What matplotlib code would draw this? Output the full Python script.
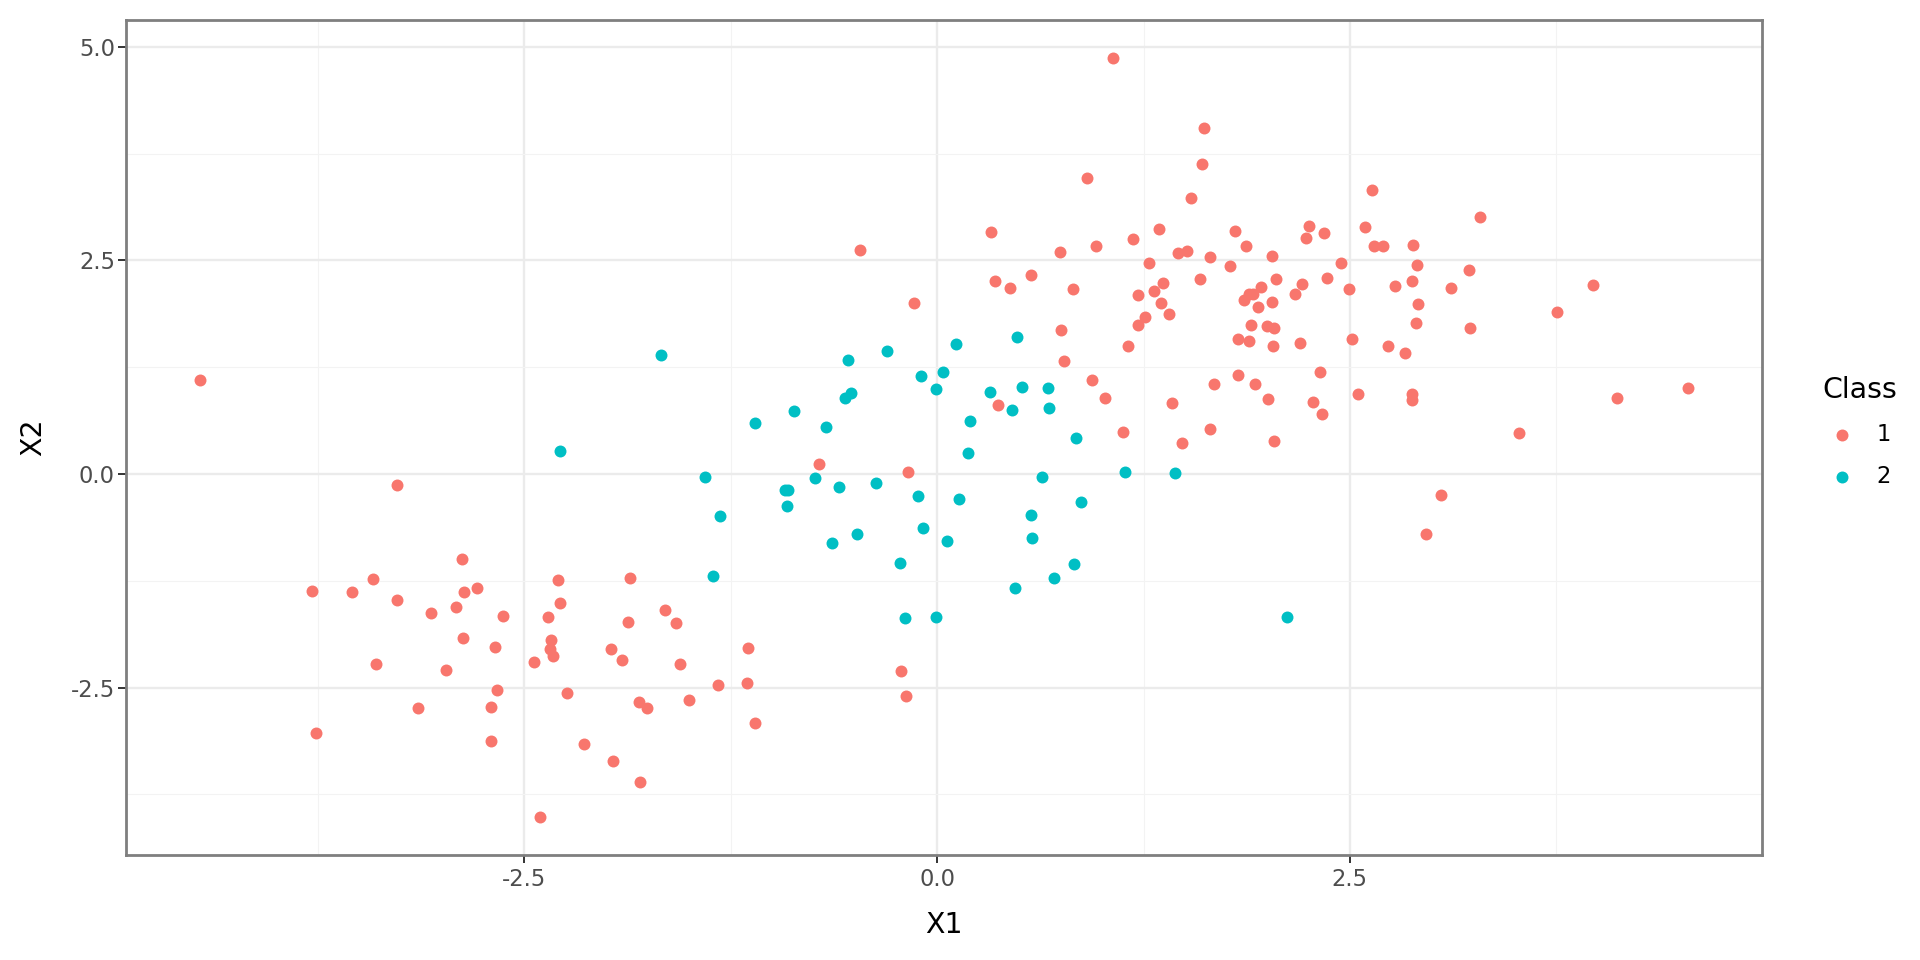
import matplotlib
matplotlib.use("Agg")
import matplotlib.pyplot as plt
import numpy as np

# ---- data: class 1 (red) ----
class1_x1 = [
    -4.463, -3.272, -2.880, -3.417, -3.785, -3.544, -2.868, -2.787, -3.270, -3.068,
    -2.914, -2.629, -2.359, -2.874, -2.676, -2.339, -2.345, -2.326, -3.397, -2.973,
    -2.666, -2.296, -1.860, -2.284, -1.646, -1.870, -1.584, -2.442, -1.975, -1.908,
    -1.559, -1.143, -3.147, -2.702, -2.705, -2.244, -1.806, -1.759, -1.502, -1.327,
    -1.149, -1.105, -2.137, -1.965, -1.801, -2.403, -3.765, -0.218, -0.190, -0.715,
    -0.176, -0.469, -0.139,
    1.064, 1.618, 1.607, 0.905, 1.539, 2.635, 0.325, 1.345, 1.187, 0.963,
    0.747, 1.460, 1.516, 1.283, 0.571, 0.349, 0.442, 0.822, 1.367, 1.218,
    1.311, 1.357, 1.405, 1.262, 1.218, 0.749, 1.157, 0.769, 0.941, 1.014,
    1.424, 0.367, 1.805, 2.251, 2.593, 2.342, 2.233, 1.872, 2.645, 2.700,
    2.884, 1.650, 2.027, 1.771, 2.445, 2.904, 3.110, 1.593, 2.054, 2.363,
    1.963, 1.912, 1.892, 1.858, 2.213, 2.167, 2.492, 2.775, 2.875, 2.031,
    1.945, 2.914, 1.902, 2.001, 2.039, 2.902, 1.824, 1.888, 2.033, 2.197,
    2.510, 2.730, 2.831, 1.824, 1.927, 2.320, 1.676, 2.003, 2.279, 2.330,
    2.547, 2.878, 2.878, 1.123, 1.654, 1.486, 2.039, 3.053, 2.960, 3.291,
    3.219, 3.970, 3.752, 3.225, 4.546, 4.117, 3.522,
]
class1_x2 = [
    1.100, -0.130, -0.995, -1.228, -1.369, -1.376, -1.376, -1.330, -1.478, -1.622,
    -1.560, -1.665, -1.673, -1.918, -2.020, -1.938, -2.050, -2.132, -2.222, -2.292,
    -2.526, -1.244, -1.213, -1.509, -1.591, -1.731, -1.739, -2.199, -2.050, -2.175,
    -2.225, -2.034, -2.740, -2.724, -3.122, -2.561, -2.670, -2.740, -2.643, -2.464,
    -2.444, -2.908, -3.165, -3.356, -3.601, -4.014, -3.028, -2.304, -2.600, 0.116,
    0.026, 2.617, 2.001,
    4.873, 4.050, 3.630, 3.459, 3.228, 3.318, 2.831, 2.862, 2.754, 2.667,
    2.593, 2.582, 2.605, 2.473, 2.333, 2.258, 2.173, 2.165, 2.235, 2.091,
    2.146, 2.001, 1.877, 1.842, 1.748, 1.690, 1.498, 1.319, 1.105, 0.895,
    0.832, 0.813, 2.849, 2.897, 2.889, 2.824, 2.765, 2.667, 2.664, 2.664,
    2.679, 2.535, 2.547, 2.430, 2.473, 2.450, 2.173, 2.280, 2.278, 2.298,
    2.183, 2.111, 2.103, 2.036, 2.219, 2.111, 2.165, 2.200, 2.259, 2.017,
    1.951, 1.986, 1.748, 1.729, 1.713, 1.767, 1.580, 1.561, 1.498, 1.538,
    1.580, 1.503, 1.417, 1.159, 1.059, 1.188, 1.051, 0.879, 0.844, 0.700,
    0.937, 0.942, 0.864, 0.490, 0.525, 0.357, 0.385, -0.247, -0.706, 3.011,
    2.387, 2.212, 1.892, 1.705, 1.004, 0.891, 0.478,
]

# ---- data: class 2 (teal) ----
class2_x1 = [
    -1.670, -0.303, -0.539, -0.099, 0.036, -0.004, -0.557, -0.521, -0.869, -1.103,
    -0.672, -2.284, -1.406, -0.739, -0.923, -0.903, -0.596, -0.370, -0.115, -0.911,
    -1.317, -0.083, -0.485, -0.636, 0.062, -0.227, -1.359, -0.196, -0.008, 0.482,
    0.113, 0.515, 0.670, 0.321, 0.456, 0.680, 0.202, 0.185, 0.842, 1.135,
    1.438, 0.870, 0.135, 0.634, 0.567, 0.577, 0.826, 0.707, 0.473, 2.122,
]
class2_x2 = [
    1.393, 1.440, 1.339, 1.144, 1.195, 0.992, 0.887, 0.946, 0.743, 0.595,
    0.545, 0.264, -0.032, -0.044, -0.184, -0.184, -0.153, -0.110, -0.254, -0.379,
    -0.492, -0.636, -0.699, -0.804, -0.788, -1.037, -1.197, -1.688, -1.676, 1.604,
    1.522, 1.019, 1.008, 0.957, 0.750, 0.774, 0.615, 0.243, 0.420, 0.019,
    0.007, -0.332, -0.290, -0.030, -0.484, -0.749, -1.057, -1.217, -1.330, -1.676,
]

classes = ["1", "2"]
class_colors = ["#F8766D", "#00BFC4"]

x_ticks = [-2.5, 0.0, 2.5]
x_tick_labels = ["-2.5", "0.0", "2.5"]
y_ticks = [-2.5, 0.0, 2.5, 5.0]
y_tick_labels = ["-2.5", "0.0", "2.5", "5.0"]

plt.rcParams["font.family"] = ["DejaVu Sans"]

TICK_FS = 16.3
TITLE_FS = 20.4

fig = plt.figure(figsize=(19.2, 9.6), dpi=100)
ax = fig.add_axes([126 / 1920, 1 - 855 / 960, (1762 - 126) / 1920, (855 - 19.6) / 960])

handles = []
for xs, ys, col in [(class1_x1, class1_x2, class_colors[0]), (class2_x1, class2_x2, class_colors[1])]:
    h = ax.scatter(xs, ys, s=74, color=col, linewidths=0, zorder=3)
    handles.append(h)

allx = np.array(class1_x1 + class2_x1)
ally = np.array(class1_x2 + class2_x2)
ex = 0.05 * (allx.max() - allx.min())
ey = 0.05 * (ally.max() - ally.min())
ax.set_xlim(allx.min() - ex, allx.max() + ex)
ax.set_ylim(ally.min() - ey, ally.max() + ey)

ax.set_xticks(x_ticks)
ax.set_xticklabels(x_tick_labels)
ax.set_yticks(y_ticks)
ax.set_yticklabels(y_tick_labels)
ax.set_xticks([-3.75, -1.25, 1.25, 3.75], minor=True)
ax.set_yticks([-3.75, -1.25, 1.25, 3.75], minor=True)

ax.set_axisbelow(True)
ax.grid(which="major", color="#EBEBEB", linewidth=1.7)
ax.grid(which="minor", color="#F3F3F3", linewidth=0.8)

ax.tick_params(which="major", length=6, width=1.4, color="#333333",
               labelsize=TICK_FS, labelcolor="#4D4D4D")
ax.tick_params(axis="x", which="major", pad=3.0)
ax.tick_params(axis="y", which="major", pad=2.0)
ax.tick_params(which="minor", length=0)

for sp in ax.spines.values():
    sp.set_color("#7F7F7F")
    sp.set_linewidth(2)

ax.set_xlabel("X1", fontsize=TITLE_FS, color="black")
ax.set_ylabel("X2", fontsize=TITLE_FS, color="black")
ax.xaxis.set_label_coords(0.5, (855 - 925) / 835.4)
ax.xaxis.label.set_va("center")
ax.yaxis.set_label_coords((33 - 126) / 1636, 0.5)
ax.yaxis.label.set_va("center")

leg = fig.legend(handles, classes, title="Class", loc="center left",
                 bbox_to_anchor=(1822 / 1920, 1 - 432 / 960),
                 frameon=False, fontsize=TICK_FS, title_fontsize=TITLE_FS,
                 handlelength=1.75, handletextpad=0.66, labelspacing=0.85,
                 borderpad=0, borderaxespad=0, alignment="left", scatterpoints=1)

fig.savefig("out.png", dpi=100, facecolor="white")
